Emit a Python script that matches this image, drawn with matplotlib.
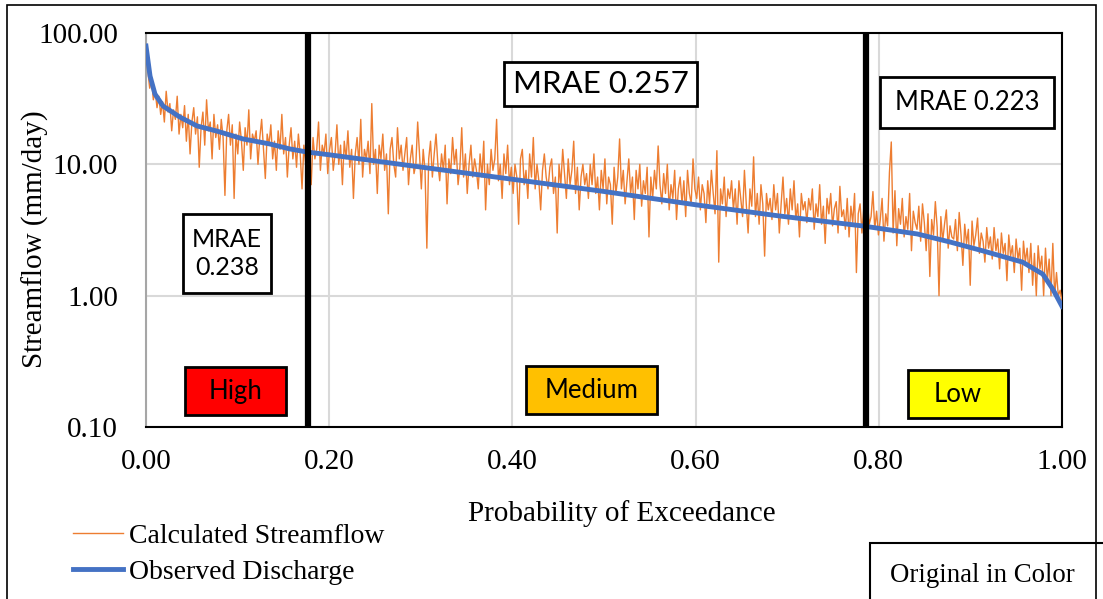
import matplotlib.pyplot as plt
import numpy as np
from matplotlib.patches import Rectangle
from matplotlib.lines import Line2D

# observed flow duration curve (exceedance prob, mm/day)
obs_p = [0.0, 0.0044, 0.0098, 0.0186, 0.037, 0.0557, 0.0775, 0.106, 0.135,
         0.157, 0.176, 0.201, 0.332, 0.496, 0.602, 0.692, 0.783, 0.842,
         0.878, 0.914, 0.957, 0.979, 0.990, 1.0]
obs_q = [79.6, 47.1, 34.3, 27.8, 22.9, 19.6, 17.9, 15.6, 14.3, 13.1, 12.4,
         11.8, 8.9, 6.27, 4.90, 4.04, 3.39, 2.95, 2.56, 2.19, 1.80, 1.46,
         1.12, 0.83]

# calculated streamflow (evenly spaced ranks)
calc_q = [
    70, 52, 38, 44, 31, 36, 27, 33, 24, 30, 21, 36, 25, 29, 18, 26, 22, 33, 17, 24,
    19, 28, 15, 24, 12, 21, 27, 17, 23, 9.5, 19, 25, 14, 31, 18, 21, 11, 24, 16, 20,
    13, 22, 16, 5.8, 18, 24, 14, 20, 5.5, 17, 12, 21, 15, 9, 19, 14, 26, 11, 17, 15,
    18, 10, 16, 22, 13, 7.8, 17, 14, 20, 11, 15, 9, 18, 13, 24, 12, 16, 8, 14, 19,
    11, 15, 9.5, 17, 12, 6.5, 14, 10, 18, 12, 7, 16, 11, 13, 21, 9, 14, 12, 17, 8.5,
    13, 16, 9, 12, 20, 10, 14, 7, 15, 11, 18, 9.5, 13, 5.5, 12, 16, 10, 22, 8, 13,
    11, 15, 8.5, 29, 10, 13, 6, 14, 11, 17, 9, 12, 4.2, 13, 16, 10, 8, 19, 11, 14,
    9, 12, 16, 7, 11, 14, 8.5, 10, 21, 12, 6.5, 13, 9, 2.3, 11, 15, 8, 12, 17, 10,
    7.5, 12, 9, 14, 5, 11, 8.5, 16, 10, 13, 7, 9.5, 19, 8, 12, 6, 10, 14, 8, 11,
    9, 6.5, 12, 8, 15, 4.5, 10, 7, 13, 9, 11, 22, 7.5, 10, 5.5, 12, 8.5, 14, 7, 9.5,
    6, 10, 8, 3.5, 11, 13, 7, 9, 5.5, 12, 8, 16, 6.5, 10, 7.5, 4.5, 9, 12, 8, 6.5,
    9.5, 11, 6, 8, 3, 10, 7, 13, 8.5, 5.5, 11, 7, 9, 15, 6, 9.5, 4.5, 8, 10, 7,
    8.5, 5.5, 10, 7, 12, 6, 8, 4.5, 9, 6.5, 11, 5, 8, 7, 3.5, 9.5, 6, 8, 15.6, 6.5,
    9, 5, 7.5, 11, 6, 8, 3.8, 9, 6.5, 10, 4.8, 7.5, 6, 9.5, 2.8, 8, 5.5, 9, 6.5, 13.8,
    7, 5, 8.5, 6, 10, 4.5, 7, 5.5, 9, 3.8, 6.5, 8, 5, 7.5, 4, 9, 6, 5, 11, 6.5,
    5.5, 8, 4.5, 7, 6, 3.6, 7.5, 5, 9, 6, 4.2, 12.7, 1.8, 6.5, 5, 8, 4, 6.5, 5.5, 7.5,
    4.5, 6.5, 3.5, 7.5, 5.5, 4, 9, 5, 3, 6.5, 4.8, 11.4, 4, 6, 3.5, 7, 5, 2.0, 6, 4.5,
    5.5, 3.8, 7, 4.5, 6, 3, 5, 8, 4.2, 5.5, 3.5, 6.5, 4.5, 7.5, 3.8, 5, 2.8, 6, 4.5, 5.2,
    3.6, 5.5, 4.5, 6.5, 3.2, 5, 4, 7, 3.5, 4.8, 2.5, 5.5, 4.2, 6, 3.4, 4.6, 5.2, 3, 6.8, 4,
    4.5, 3.2, 5.5, 2.8, 4.8, 3.6, 6, 1.5, 4.2, 5, 3, 4.6, 2.4, 5.2, 3.5, 4, 6.2, 3.2, 4.4, 2.9,
    3.8, 5.5, 2.6, 4.2, 3.4, 8.7, 14.8, 3, 6.3, 2.4, 4.6, 3.5, 5.5, 2.8, 4, 3.2, 6, 2.2, 4.4, 3.6,
    3.2, 4.8, 2.6, 5, 3.6, 2.2, 4.2, 1.4, 3.8, 2.9, 5.2, 3.3, 1.0, 4, 2.6, 3.5, 4.5, 2.3, 3.4, 2.8,
    2.7, 3.8, 2.2, 4.3, 2.9, 1.7, 3.5, 2.5, 3.2, 1.2, 3.7, 2.4, 2.9, 3.9, 2.1, 3, 2.6, 1.8, 3.3, 2.3,
    2.8, 1.9, 3.3, 2.2, 2.7, 1.6, 3, 2.1, 2.5, 1.3, 2.9, 2, 2.4, 1.5, 2.7, 1.9, 2.3, 1.1, 2.6, 1.8,
    2.3, 1.5, 2.5, 1.2, 2.1, 1.0, 2.4, 1.6, 2.0, 1.0, 2.3, 1.3, 1.9, 1.0, 2.5, 1.0, 1.5, 1.0, 1.1, 0.9,
]
calc_p = np.linspace(0, 1, len(calc_q))

breaks = [0.177, 0.786]
yticks = [0.1, 1, 10, 100]
ylabels = ['0.10', '1.00', '10.00', '100.00']
xticks = [0, 0.2, 0.4, 0.6, 0.8, 1.0]
xlabels = ['0.00', '0.20', '0.40', '0.60', '0.80', '1.00']

W, H = 1103, 599
SERIF = 'Liberation Serif'
SANS = 'Lato'


def fr(x0, y0, x1, y1):
    # pixel box -> figure fraction rect
    return (x0 / W, 1 - y1 / H, (x1 - x0) / W, (y1 - y0) / H)


fig = plt.figure(figsize=(W / 100, H / 100), dpi=100)
ax = fig.add_axes(fr(146, 33, 1062, 427))

ax.plot(calc_p, calc_q, color='#ED7D31', lw=1.0, zorder=3)
ax.plot(obs_p, obs_q, color='#4472C4', lw=3.5, zorder=4)
for b in breaks:
    ax.axvline(b, color='black', lw=4.5, zorder=5)

ax.set_yscale('log')
ax.set_ylim(0.1, 100)
ax.set_xlim(0, 1)
ax.set_yticks(yticks)
ax.set_yticklabels(ylabels)
ax.set_xticks(xticks)
ax.set_xticklabels(xlabels)
ax.minorticks_off()
ax.tick_params(length=0, labelsize=21, pad=20)
ax.tick_params(axis='x', pad=16)
for lab in ax.get_xticklabels() + ax.get_yticklabels():
    lab.set_family(SERIF)
ax.grid(True, color='#D9D9D9', lw=1.5, zorder=0)
for s in ['top', 'right', 'bottom']:
    ax.spines[s].set_color('black')
    ax.spines[s].set_linewidth(1.5)
ax.spines['left'].set_color('#A6A6A6')
ax.spines['left'].set_linewidth(1.5)

ax.set_xlabel('Probability of Exceedance', family=SERIF, fontsize=21)
ax.set_ylabel('Streamflow (mm/day)', family=SERIF, fontsize=21)
ax.xaxis.set_label_coords((622 - 146) / 916, -(514 - 427) / 394, transform=ax.transAxes)
ax.xaxis.label.set_va('center')
ax.yaxis.set_label_coords(-(146 - 35) / 916, (427 - 239) / 394, transform=ax.transAxes)
ax.yaxis.label.set_va('center')


def box(x0, y0, x1, y1, text, size, face='white', lw=2):
    fig.add_artist(Rectangle(fr(x0, y0, x1, y1)[:2], (x1 - x0) / W, (y1 - y0) / H,
                             transform=fig.transFigure, facecolor=face,
                             edgecolor='black', lw=lw, zorder=10))
    fig.text((x0 + x1) / 2 / W, 1 - (y0 + y1) / 2 / H, text, family=SANS,
             fontsize=size, ha='center', va='center', zorder=11,
             linespacing=1.25)


box(504, 62, 697, 106, 'MRAE 0.257', 22.5)
box(880, 77, 1054, 128, 'MRAE 0.223', 18.5)
box(183, 214, 271, 293, 'MRAE\n0.238', 18)
box(185, 367, 286, 415, 'High', 18.5, face='#FF0000')
box(526, 366, 657, 414, 'Medium', 18.5, face='#FFC000')
box(908, 370, 1008, 418, 'Low', 18.5, face='#FFFF00')

# legend
handles = [Line2D([], [], color='#ED7D31', lw=1.0),
           Line2D([], [], color='#4472C4', lw=3.5)]
fig.legend(handles, ['Calculated Streamflow', 'Observed Discharge'],
           loc='upper left', bbox_to_anchor=(62 / W, 1 - 512 / H),
           frameon=False, prop={'family': SERIF, 'size': 20},
           handlelength=1.8, handletextpad=0.2, labelspacing=0.4,
           borderaxespad=0)

# "Original in Color" box
fig.add_artist(Rectangle((870 / W, -0.05), 0.3, 1.05 - 543 / H,
                         transform=fig.transFigure, fill=False,
                         edgecolor='black', lw=1.5))
fig.text(890 / W, 1 - 576 / H, 'Original in Color', family=SERIF,
         fontsize=19.3, ha='left', va='center')

# outer frame
fig.add_artist(Rectangle((7 / W, -0.05), (1096 - 7) / W, 1.05 - 5 / H,
                         transform=fig.transFigure, fill=False,
                         edgecolor='black', lw=1.2))

fig.savefig('out.png', dpi=100)
